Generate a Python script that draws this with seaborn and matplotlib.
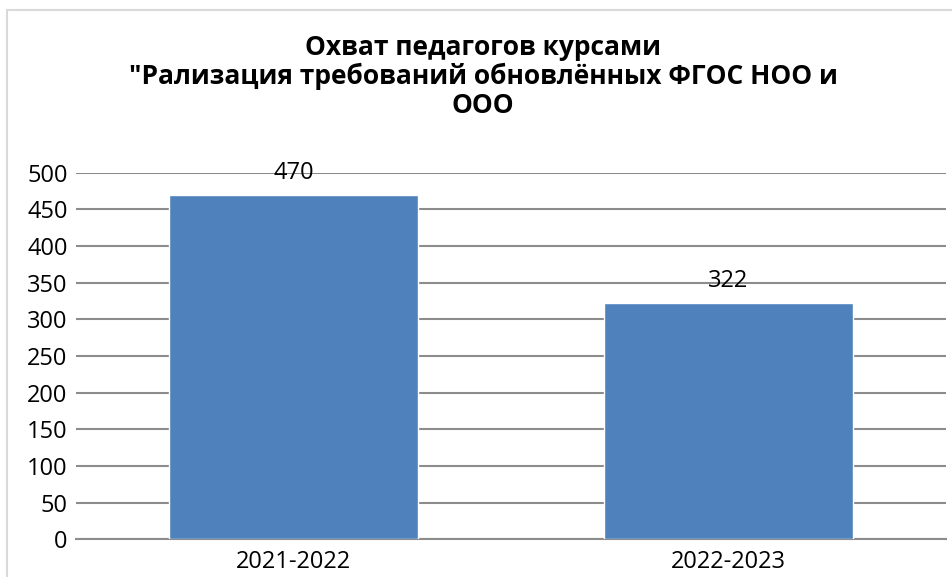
import matplotlib.pyplot as plt
import seaborn as sns
import pandas as pd
from matplotlib.lines import Line2D

# данные диаграммы
years = ['2021-2022', '2022-2023']
teachers = [470, 322]
y_ticks = [0, 50, 100, 150, 200, 250, 300, 350, 400, 450, 500]
title = 'Охват педагогов курсами\n"Рализация требований обновлённых ФГОС НОО и\nООО'

sns.set_theme(style='white')
plt.rcParams['font.family'] = ['Open Sans', 'DejaVu Sans']

df = pd.DataFrame({'year': years, 'count': teachers})

fig = plt.figure(figsize=(9.53, 5.77), dpi=100)
ax = fig.add_axes([76 / 953, 1 - 539.3 / 577, 870 / 953, 366.7 / 577])

sns.barplot(data=df, x='year', y='count', color='#4F81BD', width=0.572,
            saturation=1, ax=ax, zorder=3)
ax.set_xlim(-0.5, 1.5)
ax.set_ylim(0, 500)
ax.set_yticks(y_ticks)
ax.set_xlabel('')
ax.set_ylabel('')

# сетка как в Excel
ax.yaxis.grid(True, color='#8c8c8c', linewidth=1.5, zorder=0)
ax.set_axisbelow(True)
for s in ['top', 'right', 'left']:
	ax.spines[s].set_visible(False)
ax.spines['bottom'].set_color('#8c8c8c')
ax.spines['bottom'].set_linewidth(1.5)
ax.tick_params(axis='both', length=0, labelsize=17, colors='black')
ax.tick_params(axis='y', pad=6)
ax.tick_params(axis='x', pad=8)

ax.bar_label(ax.containers[0], labels=[str(v) for v in teachers],
             padding=7, fontsize=17, color='black')

fig.text(483 / 953, 1 - 34 / 577, title, ha='center', va='top', color='black',
         fontsize=19, fontweight='bold', linespacing=1.08)

# рамка области диаграммы
fig.add_artist(Line2D([7 / 953, 7 / 953], [0, 1 - 10 / 577], color='#d9d9d9',
                      linewidth=1.5, transform=fig.transFigure))
fig.add_artist(Line2D([7 / 953, 1], [1 - 10 / 577, 1 - 10 / 577], color='#d9d9d9',
                      linewidth=1.5, transform=fig.transFigure))

fig.savefig('out.png', dpi=100)
